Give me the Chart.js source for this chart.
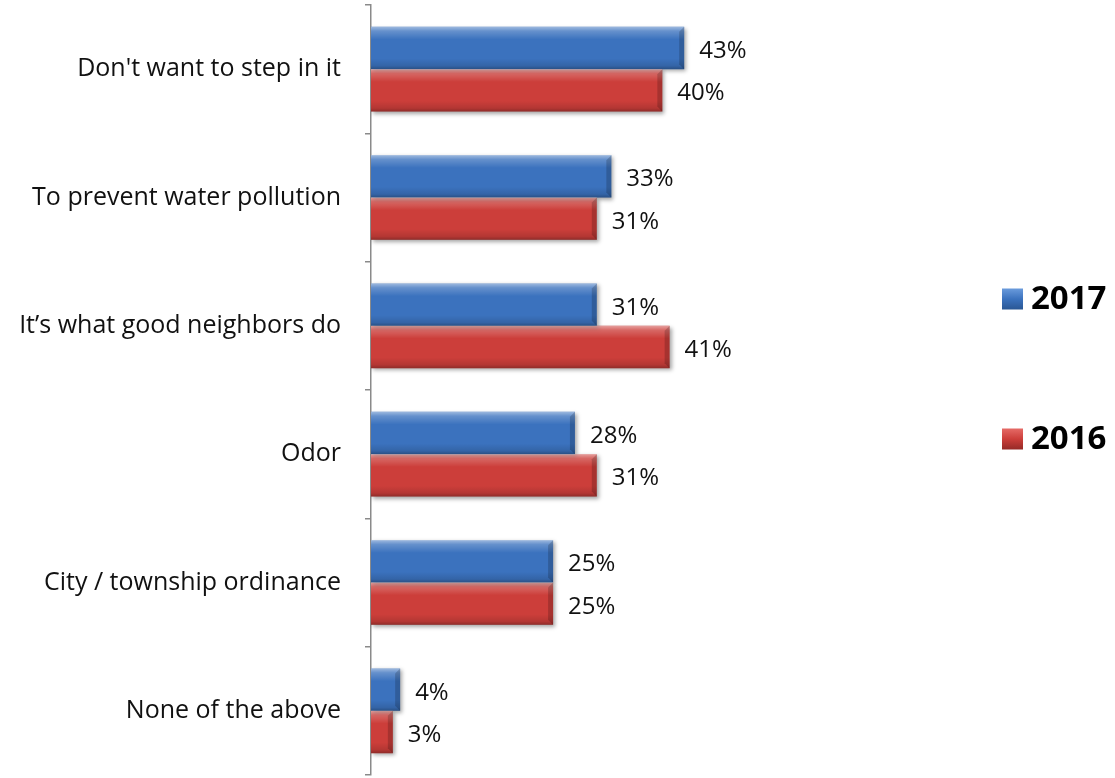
<!DOCTYPE html>
<html>
<head>
<meta charset="utf-8">
<title>Reasons for picking up after pets</title>
<script src="https://cdn.jsdelivr.net/npm/chart.js@4/dist/chart.umd.min.js"></script>
<style>
  html, body { margin: 0; padding: 0; background: #fff; }
  #wrap { width: 1115px; height: 778px; }
</style>
</head>
<body>
<div id="wrap"><canvas id="reasonsChart" width="1115" height="778"></canvas></div>
<script>
// Survey answers, one bar per year
const categories = [
    "Don't want to step in it",
    'To prevent water pollution',
    'It\u2019s what good neighbors do',
    'Odor',
    'City / township ordinance',
    'None of the above'
];
const values2017 = [43, 33, 31, 28, 25, 4];
const values2016 = [40, 31, 41, 31, 25, 3];
const seriesNames = ['2017', '2016'];
const seriesColors = ['#3B72BE', '#CC3E3A'];

const FONT = '"Open Sans", Lato, sans-serif';

// glossy bevel on top of each bar
const bevelBars = {
    id: 'bevelBars',
    beforeDatasetsDraw(chart) {
        const ctx = chart.ctx;
        ctx.save();
        ctx.shadowColor = 'rgba(0,0,0,0.35)';
        ctx.shadowBlur = 4;
        ctx.shadowOffsetX = 2;
        ctx.shadowOffsetY = 2;
    },
    afterDatasetsDraw(chart) {
        const ctx = chart.ctx;
        ctx.restore();
        chart.data.datasets.forEach((ds, di) => {
            const meta = chart.getDatasetMeta(di);
            meta.data.forEach(bar => {
                const { x, y, base, height } = bar.getProps(['x', 'y', 'base', 'height'], true);
                const top = y - height / 2;
                const w = x - base;
                ctx.save();
                let g = ctx.createLinearGradient(0, top, 0, top + height);
                g.addColorStop(0, 'rgba(255,255,255,0.5)');
                g.addColorStop(0.1, 'rgba(255,255,255,0.22)');
                g.addColorStop(0.3, 'rgba(255,255,255,0.0)');
                g.addColorStop(0.75, 'rgba(0,0,0,0.0)');
                g.addColorStop(0.92, 'rgba(0,0,0,0.12)');
                g.addColorStop(1, 'rgba(0,0,0,0.3)');
                ctx.fillStyle = g;
                ctx.fillRect(base, top, w, height);
                // darker end cap
                const cap = Math.min(5, w / 3);
                ctx.fillStyle = 'rgba(0,0,0,0.18)';
                ctx.beginPath();
                ctx.moveTo(x - cap, top + cap);
                ctx.lineTo(x, top);
                ctx.lineTo(x, top + height);
                ctx.lineTo(x - cap, top + height - cap);
                ctx.closePath();
                ctx.fill();
                ctx.restore();
            });
        });
        // value labels
        ctx.save();
        ctx.font = '24px ' + FONT;
        ctx.fillStyle = '#111';
        ctx.textAlign = 'left';
        ctx.textBaseline = 'middle';
        chart.data.datasets.forEach((ds, di) => {
            chart.getDatasetMeta(di).data.forEach((bar, i) => {
                ctx.fillText(ds.data[i] + '%', bar.x + 15, bar.y + 3);
            });
        });
        ctx.restore();
    }
};

// legend on the right side, one entry per year
const sideLegend = {
    id: 'sideLegend',
    afterDraw(chart) {
        const ctx = chart.ctx;
        const rows = [299, 439];
        ctx.save();
        chart.data.datasets.forEach((ds, i) => {
            const cy = rows[i];
            const sx = 1002, size = 21;
            const g = ctx.createLinearGradient(0, cy - size / 2, 0, cy + size / 2);
            g.addColorStop(0, i === 0 ? '#6A9BDC' : '#E56A66');
            g.addColorStop(0.5, ds.backgroundColor);
            g.addColorStop(1, i === 0 ? '#2A5794' : '#952A27');
            ctx.fillStyle = g;
            ctx.fillRect(sx, cy - size / 2, size, size);
            ctx.font = 'bold 33px ' + FONT;
            ctx.fillStyle = '#000';
            ctx.textBaseline = 'middle';
            ctx.fillText(ds.label, 1031, cy + 1);
        });
        ctx.restore();
    }
};

const ctx = document.getElementById('reasonsChart').getContext('2d');
const reasonsChart = new Chart(ctx, {
    type: 'bar',
    data: {
        labels: categories,
        datasets: [
            { label: seriesNames[0], data: values2017, backgroundColor: seriesColors[0] },
            { label: seriesNames[1], data: values2016, backgroundColor: seriesColors[1] }
        ]
    },
    options: {
        indexAxis: 'y',
        responsive: false,
        animation: false,
        datasets: {
            bar: { categoryPercentage: 0.66, barPercentage: 1.0, borderWidth: 0 }
        },
        layout: { padding: { top: 5, bottom: 3, left: 0, right: 307 } },
        plugins: {
            legend: { display: false },
            tooltip: { enabled: false }
        },
        scales: {
            x: { display: false, min: 0, max: 60 },
            y: {
                afterFit(scale) {
                    scale.width = 371;
                    scale.paddingTop = 0;
                    scale.paddingBottom = 0;
                },
                ticks: {
                    color: '#111',
                    padding: 24,
                    font: { family: FONT, size: 25 }
                },
                grid: {
                    drawOnChartArea: false,
                    tickLength: 6,
                    color: '#8a8a8a',
                    lineWidth: 1.5
                },
                border: { color: '#8a8a8a', width: 1.5 }
            }
        }
    },
    plugins: [bevelBars, sideLegend]
});
</script>
</body>
</html>
